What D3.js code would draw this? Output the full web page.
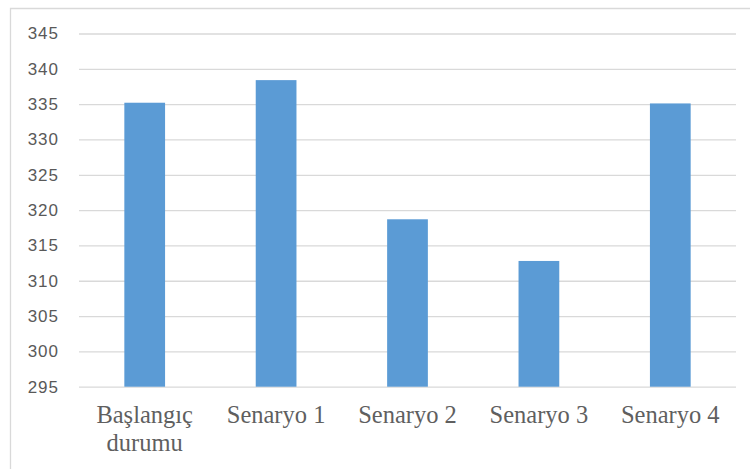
<!DOCTYPE html>
<html>
<head>
<meta charset="utf-8">
<script src="https://cdn.jsdelivr.net/npm/d3@7"></script>
<style>
  html, body { margin: 0; padding: 0; background: #fff; }
  svg { display: block; }
</style>
</head>
<body>
<svg id="chart" width="750" height="469"></svg>
<script>
// Scenario results
const categories = [["Başlangıç", "durumu"], ["Senaryo 1"], ["Senaryo 2"], ["Senaryo 3"], ["Senaryo 4"]];
const values = [335.2, 338.4, 318.7, 312.8, 335.1];
const yTicks = [295, 300, 305, 310, 315, 320, 325, 330, 335, 340, 345];

const svg = d3.select("#chart");
const W = 750, H = 469;
const margin = { left: 79, right: 14, top: 33.5, bottom: 82.3 };
const innerW = W - margin.left - margin.right;
const innerH = H - margin.top - margin.bottom;

// chart frame (top and left edges)
svg.append("path")
  .attr("d", `M10.5,${H} V8.5 H${W}`)
  .attr("fill", "none")
  .attr("stroke", "#d9d9d9")
  .attr("stroke-width", 1.3);

const g = svg.append("g").attr("transform", `translate(${margin.left},${margin.top})`);

const x = d3.scaleBand()
  .domain(categories.map(c => c.join(" ")))
  .range([0, innerW])
  .paddingInner(0.69)
  .paddingOuter(0.345);

const y = d3.scaleLinear().domain([295, 345]).range([innerH, 0]);

// gridlines
g.append("g")
  .call(d3.axisLeft(y).tickValues(yTicks).tickSize(-innerW).tickFormat(""))
  .call(a => a.select(".domain").remove())
  .call(a => a.selectAll("line").attr("stroke", "#d9d9d9").attr("stroke-width", 1.3));

// y tick labels
g.append("g")
  .call(d3.axisLeft(y).tickValues(yTicks).tickSize(0).tickPadding(20))
  .call(a => a.select(".domain").remove())
  .call(a => a.selectAll("text")
    .attr("fill", "#595959")
    .style("font-family", "'Liberation Sans', Arial, sans-serif")
    .style("font-size", "17px")
    .style("letter-spacing", "1px"));

// bars
g.selectAll("rect.bar")
  .data(values)
  .join("rect")
  .attr("class", "bar")
  .attr("x", (d, i) => x(categories[i].join(" ")))
  .attr("width", x.bandwidth())
  .attr("y", d => y(d))
  .attr("height", d => innerH - y(d))
  .attr("fill", "#5b9bd5");

// category labels
const labels = g.append("g")
  .attr("transform", `translate(0,${innerH})`)
  .selectAll("text")
  .data(categories)
  .join("text")
  .attr("x", c => x(c.join(" ")) + x.bandwidth() / 2)
  .attr("y", 36.5)
  .attr("text-anchor", "middle")
  .attr("fill", "#5f5f5f")
  .style("font-family", "'Liberation Serif', 'Times New Roman', serif")
  .style("font-size", "24.5px");

labels.selectAll("tspan")
  .data(c => c)
  .join("tspan")
  .attr("x", function () { return d3.select(this.parentNode).attr("x"); })
  .attr("dy", (d, i) => i === 0 ? 0 : 27.5)
  .text(d => d);
</script>
</body>
</html>
